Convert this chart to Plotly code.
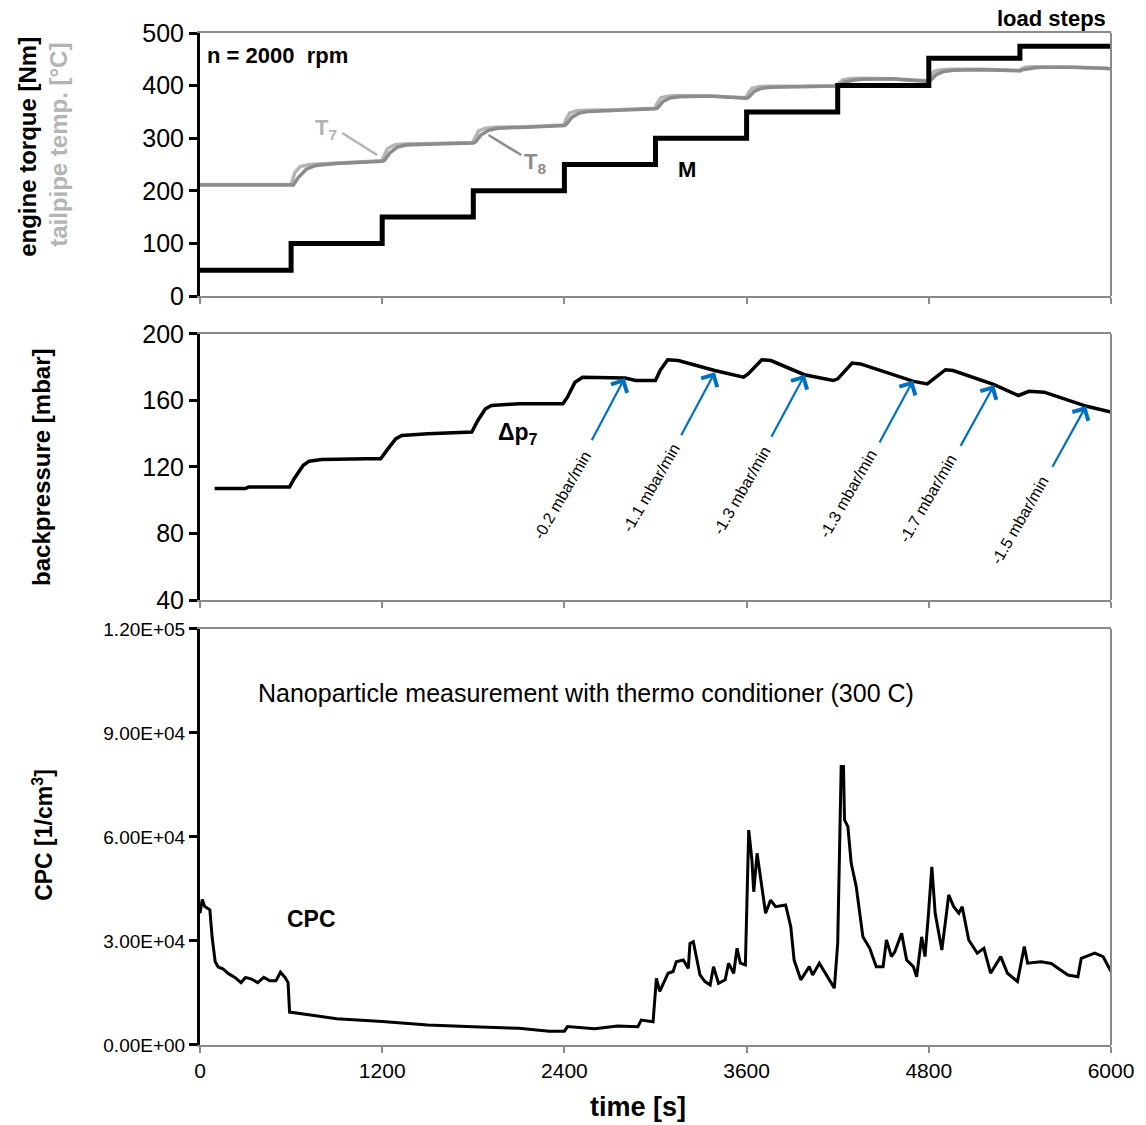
import plotly.graph_objects as go

# ---------------- data ----------------
# engine torque M [Nm] (step values, held until next time)
m_t = [0, 600, 1200, 1800, 2400, 3000, 3600, 4200, 4800, 5400, 6000]
m_v = [49, 100, 150, 200, 250, 300, 350, 400, 452, 475, 475]

# tailpipe temperature T7 [°C]
t7_t = [0, 600, 625, 660, 720, 900, 1100, 1195,
        1210, 1235, 1280, 1340, 1550, 1795,
        1810, 1835, 1880, 1940, 2150, 2395,
        2410, 2435, 2480, 2540, 2750, 2995,
        3010, 3035, 3080, 3140, 3350, 3500, 3595,
        3610, 3635, 3680, 3740, 3950, 4195,
        4210, 4235, 4280, 4340, 4550, 4750, 4795,
        4810, 4835, 4880, 4940, 5150, 5395,
        5410, 5435, 5480, 5540, 5750, 5950, 6000]
t7_v = [212, 212, 235, 246, 250, 253, 256, 257,
        265, 280, 287, 289, 290, 292,
        300, 314, 319, 321, 322, 325,
        335, 348, 352, 353, 354, 357,
        366, 377, 380, 381, 380, 378, 377,
        385, 395, 398, 399, 399, 400,
        405, 411, 413, 414, 413, 410, 409,
        418, 427, 430, 431, 431, 429,
        432, 435, 436, 436, 435, 433, 432]

# tailpipe temperature T8 [°C]
t8_t = [0, 615, 650, 700, 760, 900, 1100, 1200,
        1215, 1250, 1300, 1360, 1550, 1800,
        1815, 1850, 1900, 1960, 2150, 2400,
        2415, 2450, 2500, 2560, 2750, 3000,
        3015, 3050, 3100, 3160, 3350, 3500, 3600,
        3615, 3650, 3700, 3760, 3950, 4200,
        4215, 4250, 4300, 4360, 4550, 4750, 4800,
        4815, 4850, 4900, 4960, 5150, 5400,
        5415, 5450, 5500, 5560, 5750, 5950, 6000]
t8_v = [211, 211, 226, 241, 248, 252, 255, 256,
        258, 272, 283, 287, 289, 291,
        293, 306, 315, 319, 321, 324,
        327, 340, 348, 351, 353, 356,
        358, 370, 377, 379, 380, 377, 376,
        378, 389, 395, 397, 398, 399,
        401, 407, 410, 412, 413, 409, 408,
        411, 421, 427, 429, 430, 428,
        430, 432, 434, 435, 435, 433, 432]

# backpressure dp7 [mbar]
dp_t = [96, 300, 320, 590, 620, 680, 720, 800, 1100, 1190,
        1230, 1290, 1330, 1500, 1790, 1830, 1880, 1920, 2100, 2390,
        2420, 2470, 2520, 2650, 2800, 2870, 3000, 3030, 3080, 3150,
        3390, 3580, 3610, 3700, 3760, 3980, 4170, 4200, 4295, 4350,
        4700, 4790, 4830, 4910, 4960, 5230, 5390, 5420, 5460, 5560,
        5840, 6000]
dp_v = [107, 107, 108, 108, 113, 121, 123.5, 124.5, 125, 125,
        130, 137, 139, 140, 141, 148, 155, 157, 158, 158,
        162, 171, 174, 174, 173.5, 172, 172, 178, 184.5, 184,
        178, 174, 176, 184.5, 184, 175.5, 172, 173, 182.5, 182,
        171.5, 170, 173, 178.5, 178, 169.5, 163, 164, 165.5, 165,
        156.5, 153]

# slope labels: arrow head, arrow tail, label centre
slope_text = ["-0.2 mbar/min", "-1.1 mbar/min", "-1.3 mbar/min",
              "-1.3 mbar/min", "-1.7 mbar/min", "-1.5 mbar/min"]
head_t = [2797, 3391, 3983, 4696, 5230, 5836]
head_v = [173.5, 177, 175.5, 172, 169.3, 156.7]
tail_t = [2575, 3164, 3758, 4470, 5004, 5609]
tail_v = [135.2, 138.2, 137.3, 133.8, 131.8, 119.2]
label_t = [2385, 2974, 3570, 4271, 4795, 5397]
label_v = [102.8, 107.4, 105.6, 103.8, 100.8, 88.1]

# CPC particle number [1/cm3]
cpc_t = [0, 15, 30, 50, 65, 80, 100, 120, 150, 190,
         230, 270, 300, 340, 380, 420, 460, 500, 530, 560,
         580, 590, 700, 900, 1200, 1500, 1800, 2100, 2300, 2400,
         2420, 2600, 2750, 2884, 2906, 2984, 3006, 3028, 3083, 3116,
         3137, 3183, 3216, 3227, 3249, 3293, 3326, 3360, 3382, 3415,
         3459, 3481, 3515, 3537, 3559, 3592, 3603, 3614, 3635, 3647,
         3669, 3692, 3725, 3758, 3791, 3857, 3891, 3913, 3957, 4013,
         4035, 4079, 4134, 4178, 4200, 4212, 4223, 4238, 4245, 4267,
         4289, 4322, 4366, 4411, 4454, 4499, 4521, 4554, 4576, 4621,
         4654, 4698, 4720, 4753, 4775, 4798, 4820, 4842, 4886, 4919,
         4931, 4964, 4998, 5020, 5063, 5119, 5163, 5207, 5274, 5318,
         5384, 5429, 5451, 5539, 5606, 5716, 5782, 5804, 5893, 5948,
         6000]
cpc_v = [38000, 42000, 40000, 39500, 39000, 31000, 24000, 22500, 22000, 20500,
         19500, 18000, 19500, 19000, 18000, 19500, 18500, 18500, 21000, 19500,
         18000, 9500, 8800, 7600, 6800, 5800, 5300, 4800, 4000, 4000,
         5300, 4700, 5500, 5300, 7200, 6700, 19200, 15500, 20700, 21200,
         24000, 24500, 22100, 29300, 29800, 20200, 18300, 17300, 22600, 17800,
         18800, 23600, 20700, 27900, 23600, 23100, 42800, 62000, 53400, 44200,
         55300, 48600, 38000, 41800, 39900, 40400, 34100, 24500, 18800, 22600,
         20200, 23600, 19700, 16400, 29300, 63000, 80300, 80300, 64900, 63000,
         52400, 45700, 31200, 27900, 22600, 22600, 30300, 25500, 26900, 32200,
         24500, 22600, 19700, 31200, 25500, 38000, 51400, 38000, 27400, 38900,
         43300, 39900, 38000, 39900, 30300, 26500, 27900, 20700, 25500, 20700,
         18300, 28400, 23600, 24000, 23500, 20200, 19700, 25000, 26500, 25500,
         21200]

x_ticks = [0, 1200, 2400, 3600, 4800, 6000]
top_ticks = [0, 100, 200, 300, 400, 500]
mid_ticks = [40, 80, 120, 160, 200]
cpc_ticks = [0, 30000, 60000, 90000, 120000]
cpc_ticktext = ["0.00E+00", "3.00E+04", "6.00E+04", "9.00E+04", "1.20E+05"]

# ---------------- style ----------------
FONT = "Liberation Sans, Arial, sans-serif"
FRAME = "#8a8a8a"
T7_COL = "#b4b4b4"
T8_COL = "#8c8c8c"
BLUE = "#0070C0"

fig = go.Figure()
fig.add_trace(go.Scatter(x=t7_t, y=t7_v, mode="lines", line=dict(color=T7_COL, width=3.5),
                         xaxis="x", yaxis="y", hoverinfo="skip"))
fig.add_trace(go.Scatter(x=t8_t, y=t8_v, mode="lines", line=dict(color=T8_COL, width=3.5),
                         xaxis="x", yaxis="y", hoverinfo="skip"))
fig.add_trace(go.Scatter(x=m_t, y=m_v, mode="lines", line=dict(color="black", width=5, shape="hv"),
                         xaxis="x", yaxis="y"))
fig.add_trace(go.Scatter(x=dp_t, y=dp_v, mode="lines", line=dict(color="black", width=3.5),
                         xaxis="x2", yaxis="y2"))
fig.add_trace(go.Scatter(x=cpc_t, y=cpc_v, mode="lines", line=dict(color="black", width=3),
                         xaxis="x3", yaxis="y3"))

dom_top = [0.7401, 1.0]
dom_mid = [0.4397, 0.7026]
dom_bot = [0.0, 0.4111]

xcommon = dict(range=[0, 6000], domain=[0, 1], tickvals=x_ticks, showline=True, linecolor=FRAME,
               linewidth=2, mirror=True, ticks="outside", ticklen=6, tickwidth=2, tickcolor=FRAME,
               showgrid=False, zeroline=False, fixedrange=True)
ycommon = dict(showline=True, linecolor="black", linewidth=3, ticks="outside", ticklen=8,
               tickwidth=3, tickcolor="black", showgrid=False, zeroline=False, fixedrange=True)

fig.update_layout(
    width=1146, height=1125, autosize=False,
    margin=dict(l=200, r=25, t=33, b=80),
    paper_bgcolor="white", plot_bgcolor="white",
    showlegend=False,
    font=dict(family=FONT, color="black", size=21),
    xaxis=dict(xcommon, anchor="y", showticklabels=False),
    xaxis2=dict(xcommon, anchor="y2", showticklabels=False),
    xaxis3=dict(xcommon, anchor="y3", showticklabels=True, tickfont=dict(size=21)),
    yaxis=dict(ycommon, domain=dom_top, range=[0, 500], tickvals=top_ticks, anchor="x",
               tickfont=dict(size=25)),
    yaxis2=dict(ycommon, domain=dom_mid, range=[40, 200], tickvals=mid_ticks, anchor="x2",
                tickfont=dict(size=25)),
    yaxis3=dict(ycommon, domain=dom_bot, range=[0, 120000], tickvals=cpc_ticks,
                ticktext=cpc_ticktext, anchor="x3", tickfont=dict(size=19)),
)

# right-hand frame edges (gray)
for dom in (dom_top, dom_mid, dom_bot):
    fig.add_shape(type="line", xref="paper", yref="paper", x0=1, x1=1, y0=dom[0], y1=dom[1],
                  line=dict(color=FRAME, width=2), layer="above")

# leader lines for T7 / T8
fig.add_shape(type="line", xref="x", yref="y", x0=937, y0=310, x1=1166, y1=268,
              line=dict(color=T7_COL, width=2.5))
fig.add_shape(type="line", xref="x", yref="y", x0=1900, y0=306, x1=2116, y1=268,
              line=dict(color=T8_COL, width=2.5))

ann = []
# axis titles
ann.append(dict(text="<b>engine torque [Nm]</b>", xref="paper", yref="paper", x=-0.1889, y=0.8874,
                textangle=-90, showarrow=False, font=dict(size=24, color="black"),
                xanchor="center", yanchor="middle"))
ann.append(dict(text="<b>tailpipe temp. [°C]</b>", xref="paper", yref="paper", x=-0.1561, y=0.8893,
                textangle=-90, showarrow=False, font=dict(size=24, color=T7_COL),
                xanchor="center", yanchor="middle"))
ann.append(dict(text="<b>backpressure [mbar]</b>", xref="paper", yref="paper", x=-0.1747, y=0.5711,
                textangle=-90, showarrow=False, font=dict(size=24), xanchor="center", yanchor="middle"))
ann.append(dict(text="<b>CPC [1/cm<sup>3</sup>]</b>", xref="paper", yref="paper", x=-0.1725, y=0.2075,
                textangle=-90, showarrow=False, font=dict(size=23), xanchor="center", yanchor="middle"))
ann.append(dict(text="<b>time [s]</b>", xref="paper", yref="paper", x=0.4803, y=-0.0613,
                showarrow=False, font=dict(size=27), xanchor="center", yanchor="middle"))
ann.append(dict(text="<b>load steps</b>", xref="paper", yref="paper", x=0.9967, y=1.0148,
                showarrow=False, font=dict(size=22), xanchor="right", yanchor="middle"))
# top panel labels
ann.append(dict(text="<b>n = 2000  rpm</b>", xref="x", yref="y", x=33, y=458, showarrow=False,
                font=dict(size=22), xanchor="left", yanchor="middle"))
ann.append(dict(text="<b>T<sub>7</sub></b>", xref="x", yref="y", x=832, y=317, showarrow=False,
                font=dict(size=22, color=T7_COL), xanchor="center", yanchor="middle"))
ann.append(dict(text="<b>T<sub>8</sub></b>", xref="x", yref="y", x=2207, y=253, showarrow=False,
                font=dict(size=22, color=T8_COL), xanchor="center", yanchor="middle"))
ann.append(dict(text="<b>M</b>", xref="x", yref="y", x=3210, y=240, showarrow=False,
                font=dict(size=22), xanchor="center", yanchor="middle"))
# middle panel
ann.append(dict(text="<b>Δp<sub>7</sub></b>", xref="x2", yref="y2", x=2096, y=140.4, showarrow=False,
                font=dict(size=23), xanchor="center", yanchor="middle"))
for i in range(len(slope_text)):
    ann.append(dict(text="", xref="x2", yref="y2", x=head_t[i], y=head_v[i],
                    axref="x2", ayref="y2", ax=tail_t[i], ay=tail_v[i],
                    showarrow=True, arrowhead=4, arrowsize=1.6, arrowwidth=2.2, arrowcolor=BLUE,
                    standoff=0, startstandoff=0))
    ann.append(dict(text=slope_text[i], xref="x2", yref="y2", x=label_t[i], y=label_v[i],
                    textangle=-60, showarrow=False, font=dict(size=16),
                    xanchor="center", yanchor="middle"))
# bottom panel
ann.append(dict(text="Nanoparticle measurement with thermo conditioner (300 C)", xref="x3", yref="y3",
                x=2541, y=101500, showarrow=False, font=dict(size=25),
                xanchor="center", yanchor="middle"))
ann.append(dict(text="<b>CPC</b>", xref="x3", yref="y3", x=734, y=36350, showarrow=False,
                font=dict(size=23), xanchor="center", yanchor="middle"))

fig.update_layout(annotations=ann)
# remove the default page margin / scrollbars so the figure fills the window exactly
post = ("document.documentElement.style.overflow='hidden';"
        "document.body.style.margin='0';document.body.style.overflow='hidden';"
        "var gd=document.getElementById('{plot_id}');"
        "Plotly.relayout(gd,{width:1146,height:1125});")
fig.write_html("out.html", config={"displayModeBar": False, "responsive": False}, post_script=post)
